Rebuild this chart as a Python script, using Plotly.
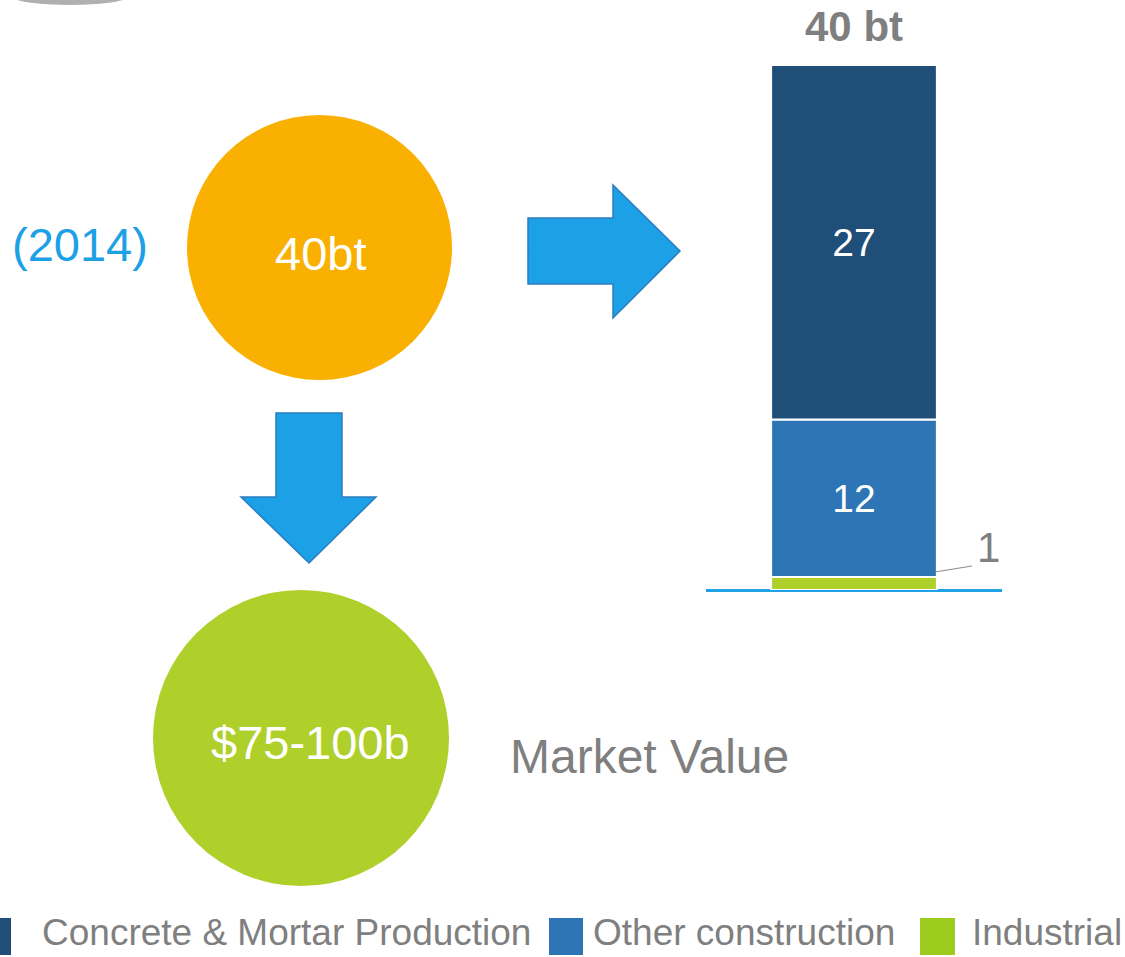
import plotly.graph_objects as go

W, H = 1125, 957

# ---- data ----
categories = ["Industrial", "Other construction", "Concrete & Mortar Production"]
values = [1, 12, 27]
bar_colors = ["#AFCF2B", "#2E75B6", "#1F4E79"]
legend_order = ["Concrete & Mortar Production", "Other construction", "Industrial"]
legend_colors = ["#1F4E79", "#2E75B6", "#9DCB1E"]
total_label = f"{sum(values)} bt"
production_label = "40bt"
year_label = "(2014)"
market_label = "$75-100b"
market_title = "Market Value"

FONT = "Liberation Sans, Arial, sans-serif"
GRAY = "#7F7F7F"
ARROW = "#1CA0E6"
ARROW_LINE = "#2B7CC0"


def px(x):
    return x / W


def py(y):
    return 1 - y / H


def path(points):
    s = "M " + " L ".join(f"{px(x):.5f},{py(y):.5f}" for x, y in points) + " Z"
    return s


fig = go.Figure()

base = 0
for cat, v, c in zip(categories, values, bar_colors):
    fig.add_trace(go.Bar(
        x=[0], y=[v], base=[base], name=cat, width=0.56,
        marker=dict(color=c, line=dict(color="white", width=2)),
        text=[str(v)] if v > 2 else [""],
        textposition="inside", insidetextanchor="middle",
        textfont=dict(color="white", size=39, family=FONT),
        showlegend=False, hoverinfo="skip",
    ))
    base += v

shapes = []
annotations = []

# faint blurry shape at top-left
shapes.append(dict(type="circle", xref="paper", yref="paper",
                   x0=px(12), x1=px(128), y0=py(5), y1=py(-12),
                   fillcolor="rgba(80,80,80,0.45)", line=dict(width=0), layer="above"))

# circles
shapes.append(dict(type="circle", xref="paper", yref="paper",
                   x0=px(187), x1=px(452), y0=py(380), y1=py(115),
                   fillcolor="#F9B000", line=dict(width=0)))
shapes.append(dict(type="circle", xref="paper", yref="paper",
                   x0=px(153), x1=px(449), y0=py(886), y1=py(590),
                   fillcolor="#AFCF2B", line=dict(width=0)))

# right arrow
shapes.append(dict(type="path", xref="paper", yref="paper",
                   path=path([(528, 218), (613, 218), (613, 185), (680, 251),
                              (613, 318), (613, 284), (528, 284)]),
                   fillcolor=ARROW, line=dict(color=ARROW_LINE, width=1.5)))
# down arrow
shapes.append(dict(type="path", xref="paper", yref="paper",
                   path=path([(276, 413), (342, 413), (342, 497), (376, 497),
                              (309, 563), (241, 497), (276, 497)]),
                   fillcolor=ARROW, line=dict(color=ARROW_LINE, width=1.5)))

# leader line for small segment
shapes.append(dict(type="line", xref="paper", yref="paper",
                   x0=px(935), y0=py(572), x1=px(972), y1=py(566),
                   line=dict(color="#8C8C8C", width=1.2)))

# legend squares
legend_boxes = [(-24, 11), (549, 583), (920, 955)]
legend_text_x = [40, 591, 970]
for (x0, x1), col, lab, tx in zip(legend_boxes, legend_colors, legend_order, legend_text_x):
    shapes.append(dict(type="rect", xref="paper", yref="paper",
                       x0=px(x0), x1=px(x1), y0=py(955), y1=py(918),
                       fillcolor=col, line=dict(width=0)))
    annotations.append(dict(xref="paper", yref="paper", x=px(tx), y=py(932),
                            text=lab, showarrow=False, xanchor="left", yanchor="middle",
                            font=dict(size=37, color=GRAY, family=FONT)))

# texts
annotations += [
    dict(xref="paper", yref="paper", x=px(80), y=py(244), text=year_label,
         showarrow=False, xanchor="center", yanchor="middle",
         font=dict(size=47, color="#1CA0E6", family=FONT)),
    dict(xref="paper", yref="paper", x=px(320), y=py(253), text=production_label,
         showarrow=False, xanchor="center", yanchor="middle",
         font=dict(size=47, color="white", family=FONT)),
    dict(xref="paper", yref="paper", x=px(310), y=py(742), text=market_label,
         showarrow=False, xanchor="center", yanchor="middle",
         font=dict(size=47, color="white", family=FONT)),
    dict(xref="paper", yref="paper", x=px(508), y=py(756), text=market_title,
         showarrow=False, xanchor="left", yanchor="middle",
         font=dict(size=48, color=GRAY, family=FONT)),
    dict(xref="x", yref="y", x=0, y=sum(values), yshift=38, text=f"<b>{total_label}</b>",
         showarrow=False, xanchor="center", yanchor="middle",
         font=dict(size=42, color=GRAY, family=FONT)),
    dict(xref="paper", yref="paper", x=px(988), y=py(547), text=str(values[0]),
         showarrow=False, xanchor="center", yanchor="middle",
         font=dict(size=42, color=GRAY, family=FONT)),
]

fig.update_layout(
    width=W, height=H,
    margin=dict(l=0, r=0, t=0, b=0),
    paper_bgcolor="white", plot_bgcolor="white",
    barmode="overlay",
    shapes=shapes, annotations=annotations,
    xaxis=dict(domain=[px(706), px(1002)], range=[-0.5, 0.5], showgrid=False,
               zeroline=False, showticklabels=False, showline=False, fixedrange=True),
    yaxis=dict(domain=[py(590), py(65)], range=[0, 40], showgrid=False,
               zeroline=True, zerolinecolor="#1FA3E6", zerolinewidth=2.5,
               showticklabels=False, showline=False, fixedrange=True),
    showlegend=False,
)

fig.write_html(
    "out.html",
    config={"displayModeBar": False},
    post_script="document.body.style.margin='0';document.body.style.overflow='hidden';",
)
